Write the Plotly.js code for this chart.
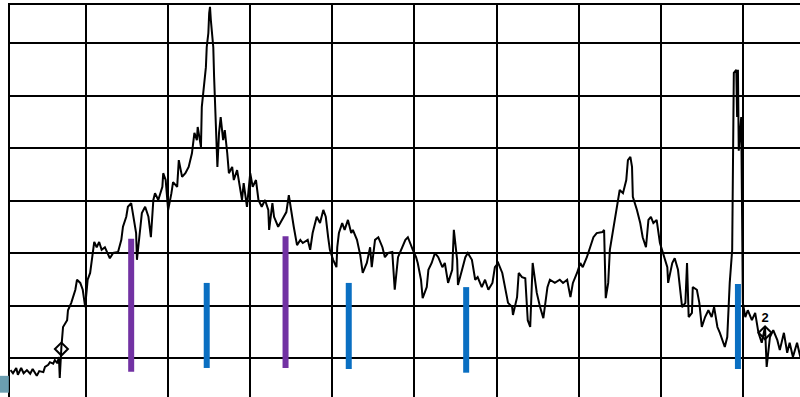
<!DOCTYPE html>
<html>
<head>
<meta charset="utf-8">
<script src="https://cdn.plot.ly/plotly-3.0.1.min.js"></script>
<style>html,body{margin:0;padding:0;background:#fff;}#chart{width:800px;height:397px;}</style>
</head>
<body>
<div id="chart"></div>
<script>
// Main trace (x in grid units, 10 per gridline; y in grid units, 10 per gridline)
const seriesX = [0.8,1.1,1.5,1.7,2.1,2.4,2.8,3.2,3.5,4.0,4.3,4.8,5.0,5.4,5.6,6.0,6.2,6.5,6.7,6.8,7.0,7.1,7.2,7.7,7.8,8.2,8.4,8.7,8.9,9.3,9.6,9.9,10.0,10.2,10.5,10.7,11.0,11.3,11.6,11.9,12.3,12.9,13.3,13.9,14.3,14.5,14.9,15.1,15.5,
15.7,16.1,16.2,16.5,16.8,17.2,17.6,17.9,18.2,18.4,18.8,19.3,19.4,19.7,20.0,20.4,20.6,21.1,21.3,21.7,22.1,22.5,22.9,23.2,23.5,23.6,24.0,24.1,24.4,24.6,24.7,24.9,25.0,25.1,25.2,25.5,25.6,25.7,25.8,26.0,26.2,26.4,26.7,26.9,27.2,27.4,27.8,28.0,28.4,28.6,29.0,29.2,29.6,30.0,30.3,30.7,31.0,31.4,31.8,
32.2,32.3,32.7,32.9,33.4,33.9,34.4,34.7,35.1,35.3,35.7,36.1,36.4,37.0,37.3,37.6,38.1,38.5,38.9,39.2,39.5,39.7,40.1,40.5,40.6,40.8,41.2,41.5,41.9,42.3,42.5,43.0,43.4,43.7,44.2,44.6,44.8,45.2,45.6,46.1,46.4,46.8,47.3,47.6,48.0,
48.5,48.9,49.2,49.6,49.8,50.2,50.4,50.8,51.0,51.5,51.7,52.1,52.5,52.9,53.4,53.7,54.1,54.6,54.8,55.2,55.3,55.8,56.2,56.5,57.0,57.4,57.7,58.2,58.6,59.0,59.5,59.8,60.2,60.7,61.0,61.4,61.9,62.0,62.5,62.7,63.1,63.5,63.8,64.1,
64.4,64.9,65.3,65.7,66.2,66.5,67.1,67.7,68.1,68.6,69.0,69.3,69.8,70.2,70.5,71.0,71.4,71.8,72.2,72.9,73.1,73.3,73.6,73.8,74.2,74.7,75.0,75.4,75.8,76.0,76.3,76.5,76.6,77.1,77.5,77.8,78.2,78.5,78.8,79.1,79.5,79.9,
80.3,80.8,80.9,81.4,81.7,82.1,82.6,83.0,83.2,83.4,83.8,83.9,84.4,84.7,85.0,85.4,85.8,86.2,86.5,86.9,87.2,87.6,87.8,88.1,88.2,88.4,88.7,88.8,88.9,89.2,89.3,89.4,89.5,89.8,89.9,90.0,90.3,90.6,91.1,91.5,91.9,92.3,92.7,92.9,93.3,93.7,94.2,94.5,95.0,95.4,95.7,96.1,96.6,97.0];
const seriesY = [7.7,7.1,8.1,6.8,8.1,7.1,7.7,7.0,7.9,6.6,7.5,7.3,8.3,8.7,9.2,8.9,9.6,9.0,10.2,6.2,12.1,14.0,15.9,17.2,19.1,20.5,21.6,23.0,24.9,24.3,23.0,19.7,21.6,24.9,26.2,28.7,32.1,31.1,32.1,30.6,31.1,29.0,30.0,30.2,32.5,35.0,36.9,38.8,39.5,
37.6,33.8,28.7,33.8,37.6,38.8,36.9,33.0,40.1,41.4,40.1,42.6,45.2,43.9,38.2,41.4,43.5,42.6,47.7,44.5,45.2,46.4,49.0,52.9,51.5,54.0,50.2,57.8,62.4,65.4,69.2,71.9,75.7,76.9,74.4,69.2,63.5,59.1,51.5,46.4,52.9,55.9,51.5,53.4,49.0,45.2,46.4,43.9,45.8,43.9,40.1,43.3,38.8,45.2,42.6,43.9,40.1,38.8,40.1,
38.2,34.4,39.5,36.9,35.0,36.3,37.8,41.0,36.3,35.0,31.5,32.5,31.9,32.5,30.6,33.8,36.9,35.7,38.2,36.9,32.9,30.6,28.7,27.3,31.1,33.8,35.7,34.4,36.3,33.8,34.4,32.5,29.6,26.2,28.1,31.1,27.3,32.5,33.0,31.1,29.2,30.0,30.2,23.0,29.2,
31.1,32.5,33.0,31.1,30.6,29.2,28.1,24.9,21.4,23.5,26.8,28.1,30.0,29.2,27.3,28.1,24.3,26.8,34.4,28.7,23.9,26.8,29.2,30.0,28.7,24.9,25.4,23.5,24.9,23.0,24.3,27.3,28.1,26.2,23.5,20.5,19.7,18.2,21.6,26.2,25.4,25.2,17.2,15.9,
28.1,22.4,19.7,17.6,23.5,24.9,24.3,24.9,24.3,24.9,21.6,24.3,26.2,28.1,27.3,29.2,31.1,33.0,33.8,34.0,34.4,21.4,24.3,30.6,34.4,39.1,42.0,41.4,43.9,47.7,48.3,46.4,40.7,38.2,35.7,33.0,31.1,36.3,36.9,35.7,36.3,31.9,
30.0,27.3,24.3,28.1,29.0,26.8,19.7,20.5,28.1,17.8,18.6,23.5,23.0,20.5,15.9,17.8,19.1,17.8,19.7,15.9,14.8,12.9,12.1,14.0,17.8,24.3,30.6,49.5,64.3,64.9,55.9,64.9,49.5,55.9,36.9,20.5,17.8,19.1,17.2,18.6,14.8,12.9,15.9,8.3,14.0,15.3,13.4,11.5,14.8,11.0,12.9,10.2,12.9,10.2];

// Vertical markers
const barX      = [15.5, 24.7, 34.3, 42.0, 56.3, 89.4];
const barBottom = [7.4, 8.1, 8.1, 7.9, 7.2, 7.9];
const barTop    = [32.7, 24.3, 33.2, 24.3, 23.5, 24.1];
const barGroup  = ['purple','blue','purple','blue','blue','blue'];

// Diamond markers
const pointX = [7.0, 92.7];
const pointY = [11.7, 14.8];
const pointLabel = ['', '2'];

const groupColor = {purple: '#7232a3', blue: '#0a6fc2'};

function segs(group){
  const xs = [], ys = [];
  barX.forEach((x, i) => {
    if (barGroup[i] !== group) return;
    xs.push(x, x, null);
    ys.push(barBottom[i], barTop[i], null);
  });
  return {x: xs, y: ys, mode: 'lines', type: 'scatter', hoverinfo: 'skip',
          line: {color: groupColor[group], width: 6}, showlegend: false};
}

const traces = [
  {x: seriesX, y: seriesY, mode: 'lines', type: 'scatter',
   line: {color: '#000', width: 2}, showlegend: false},
  {x: pointX, y: pointY, mode: 'markers+text', type: 'scatter', text: pointLabel,
   textposition: 'top center', textfont: {family: 'Liberation Sans, Arial, sans-serif', size: 13, color: '#000', weight: 'bold'},
   marker: {symbol: 'diamond-open', size: 10, color: '#000', line: {width: 2, color: '#000'}}, showlegend: false},
  segs('purple'),
  segs('blue')
];

const layout = {
  width: 800, height: 397,
  margin: {l: 10, r: 0, t: 5, b: 0, pad: 0},
  paper_bgcolor: '#fff', plot_bgcolor: '#fff',
  showlegend: false,
  xaxis: {range: [0.74, 96.96], tick0: 0, dtick: 10, showgrid: true, gridcolor: '#000', gridwidth: 2,
          zeroline: false, showticklabels: false, ticks: '', showline: true, linecolor: '#000', linewidth: 2, side: 'top'},
  yaxis: {range: [2.57, 77.24], tick0: 0, dtick: 10, showgrid: true, gridcolor: '#000', gridwidth: 2,
          zeroline: false, showticklabels: false, ticks: '', showline: true, linecolor: '#000', linewidth: 2, side: 'left'},
  shapes: [
    {type: 'rect', xref: 'paper', yref: 'paper', x0: -0.0127, x1: -0.0015, y0: 0.011, y1: 0.054,
     fillcolor: '#6b9eb0', line: {width: 0}, layer: 'above'}
  ]
};

Plotly.newPlot('chart', traces, layout, {displayModeBar: false, staticPlot: true});
</script>
</body>
</html>
